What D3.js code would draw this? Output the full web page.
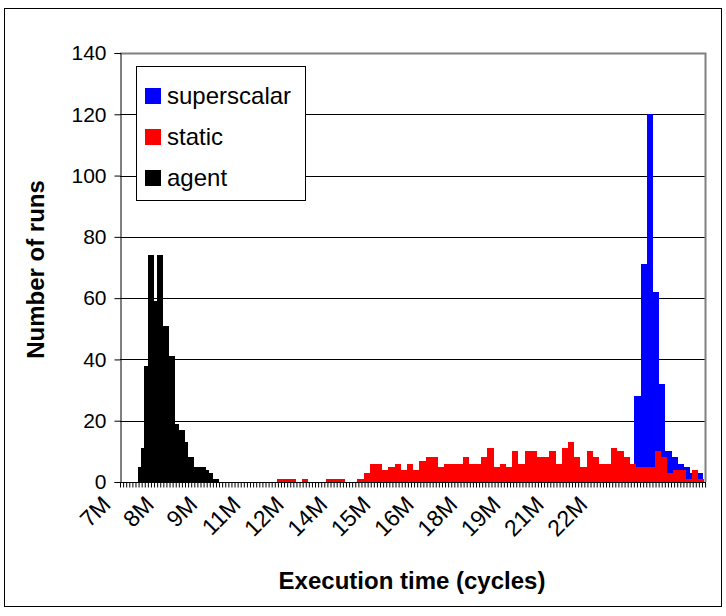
<!DOCTYPE html>
<html>
<head>
<meta charset="utf-8">
<script src="https://cdn.jsdelivr.net/npm/d3@7"></script>
<style>
  html, body { margin: 0; padding: 0; background: #fff; }
  svg { display: block; font-family: "Liberation Sans", Arial, sans-serif; }
</style>
</head>
<body>
<svg id="chart" width="726" height="616"></svg>
<script>
// ---- data ----
const seriesNames = ["superscalar", "static", "agent"];
const seriesColors = ["#0000FF", "#FF0000", "#000000"];

const yTicks = [0, 20, 40, 60, 80, 100, 120, 140];
const xTickValues = [6.6, 8.0, 9.4, 10.8, 12.2, 13.6, 15.0, 16.4, 17.8, 19.2, 20.6, 22.0];
const xTickLabels = ["7M", "8M", "9M", "11M", "12M", "14M", "15M", "16M", "18M", "19M", "21M", "22M"];

// superscalar: bins start (M cycles), width, counts
const superStart = 23.22;
const superWidth = 0.2;
const superCounts = [28, 71, 120, 62, 32, 10, 8, 6, 5, 3, 3];

// static
const staticStart = 11.67;
const staticWidth = 0.2;
const staticCounts = [1, 1, 1, 0, 1, 0, 0, 0, 1, 1, 1, 0, 0, 1, 3, 6, 6, 4, 5, 6,
  4, 6, 4, 7, 8, 8, 5, 6, 6, 6, 8, 6, 6, 8, 11, 5, 6, 5, 10, 6,
  10, 10, 8, 8, 10, 6, 11, 13, 8, 5, 10, 8, 6, 6, 11, 10, 8, 6, 5, 5,
  5, 10, 8, 3, 4, 4, 1, 4, 1];

// agent
const agentStart = 7.19;
const agentWidth = 0.1;
const agentCounts = [5, 11, 38, 74, 74, 59, 74, 74, 51, 51, 41, 41, 19, 17, 17, 13,
  8, 8, 5, 5, 5, 5, 4, 3, 1, 1];

const xDomain = [6.6, 25.53];
const categoryStep = 0.1;

// ---- layout ----
const svg = d3.select("#chart");
const plot = { left: 120, right: 706, top: 53, bottom: 482 };

const x = d3.scaleLinear().domain(xDomain).range([plot.left, plot.right]);
const y = d3.scaleLinear().domain([0, 140]).range([plot.bottom, plot.top]);

// outer frame
svg.append("rect").attr("x", 4.5).attr("y", 8.5).attr("width", 717).attr("height", 598)
  .attr("fill", "#fff").attr("stroke", "#000").attr("stroke-width", 1);

// gridlines
svg.append("g").selectAll("line").data(yTicks.filter(d => d > 0 && d < 140)).join("line")
  .attr("x1", plot.left).attr("x2", plot.right)
  .attr("y1", d => Math.round(y(d)) + 0.5).attr("y2", d => Math.round(y(d)) + 0.5)
  .attr("stroke", "#000").attr("stroke-width", 1);

// plot-area border (top & right, gray)
svg.append("path")
  .attr("d", `M${plot.left},${plot.top + 0.5}H${plot.right - 0.5}V${plot.bottom}`)
  .attr("fill", "none").attr("stroke", "#808080").attr("stroke-width", 2);

function bins(start, width, counts) {
  return counts.map((c, i) => ({ x0: start + i * width, x1: start + (i + 1) * width, c }));
}
const series = [
  bins(superStart, superWidth, superCounts),
  bins(staticStart, staticWidth, staticCounts),
  bins(agentStart, agentWidth, agentCounts)
];

series.forEach((data, si) => {
  svg.append("g").attr("shape-rendering", "crispEdges")
    .selectAll("rect").data(data.filter(d => d.c > 0)).join("rect")
    .attr("x", d => Math.round(x(d.x0)))
    .attr("width", d => Math.round(x(d.x1)) - Math.round(x(d.x0)))
    .attr("y", d => Math.round(y(d.c)))
    .attr("height", d => Math.round(y(0)) - Math.round(y(d.c)))
    .attr("fill", seriesColors[si]);
});

// y axis
const yAxis = d3.axisLeft(y).tickValues(yTicks).tickSize(6).tickPadding(8);
const gy = svg.append("g").attr("transform", `translate(${plot.left + 0.5},0)`).call(yAxis);
gy.select(".domain").attr("stroke", "#000");
gy.selectAll("text").attr("font-size", 21).attr("fill", "#000")
  .attr("font-family", "Liberation Sans, Arial, sans-serif");

// x axis: minor ticks at every category
const catTicks = d3.range(xDomain[0], xDomain[1], categoryStep);
const xAxis = d3.axisBottom(x).tickValues(catTicks).tickSize(5).tickFormat("");
const gx = svg.append("g").attr("transform", `translate(0,${plot.bottom + 0.5})`).call(xAxis);
gx.select(".domain").attr("stroke", "#000").attr("d", `M${plot.left},0H${plot.right}`);
gx.selectAll(".tick line").attr("stroke", "#000");

// x labels (rotated)
svg.append("g").selectAll("text").data(xTickValues).join("text")
  .attr("transform", d => `translate(${x(d) - 8},${plot.bottom + 24}) rotate(-45)`)
  .attr("text-anchor", "end")
  .attr("font-size", 23)
  .text((d, i) => xTickLabels[i]);

// axis titles
svg.append("text")
  .attr("transform", `translate(44,${(plot.top + plot.bottom) / 2 + 2}) rotate(-90)`)
  .attr("text-anchor", "middle").attr("font-weight", "bold").attr("font-size", 24)
  .text("Number of runs");
svg.append("text")
  .attr("x", 412).attr("y", 589)
  .attr("text-anchor", "middle").attr("font-weight", "bold").attr("font-size", 24)
  .text("Execution time (cycles)");

// legend
const lg = svg.append("g");
lg.append("rect").attr("x", 136.5).attr("y", 66.5).attr("width", 169).attr("height", 134)
  .attr("fill", "#fff").attr("stroke", "#000").attr("stroke-width", 1);
seriesNames.forEach((name, i) => {
  const cy = 96 + i * 41;
  lg.append("rect").attr("x", 145).attr("y", cy - 8).attr("width", 16).attr("height", 16)
    .attr("fill", seriesColors[i]);
  lg.append("text").attr("x", 167).attr("y", cy + 8).attr("font-size", 24).text(name);
});
</script>
</body>
</html>
